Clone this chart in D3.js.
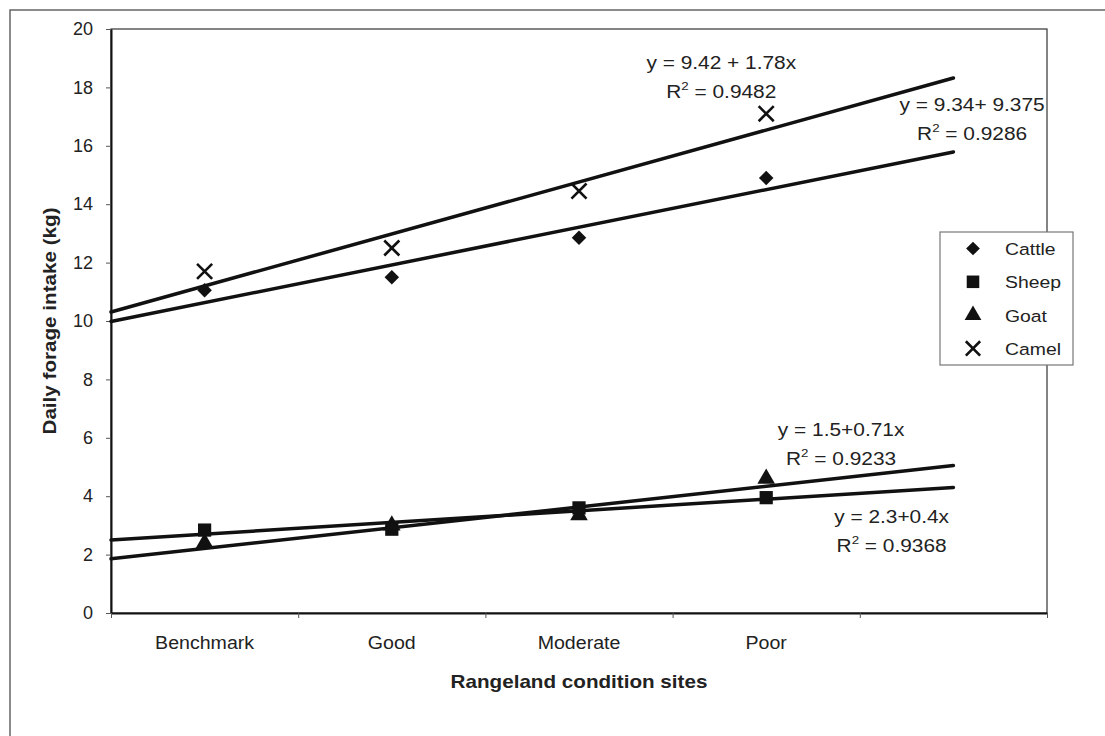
<!DOCTYPE html>
<html>
<head>
<meta charset="utf-8">
<script src="https://cdn.jsdelivr.net/npm/d3@7"></script>
<style>
  html, body { margin: 0; padding: 0; background: #fff; }
  svg { display: block; font-family: "Liberation Sans", Arial, sans-serif; }
</style>
</head>
<body>
<svg id="chart" width="1105" height="736"></svg>
<script>
// Daily forage intake per animal across rangeland condition sites
const categories = ["Benchmark", "Good", "Moderate", "Poor"];
const cattle = [11.05, 11.5, 12.85, 14.9];
const sheep  = [2.84, 2.87, 3.6, 3.95];
const goat   = [2.4, 3.0, 3.35, 4.6];
const camel  = [11.7, 12.5, 14.45, 17.1];

// Linear trends: [intercept, slope] over category index 1..n
const camelTrend  = [9.42, 1.78];
const cattleTrend = [9.34, 1.29];
const goatTrend   = [1.5, 0.71];
const sheepTrend  = [2.3, 0.4];

const yTicks = [0, 2, 4, 6, 8, 10, 12, 14, 16, 18, 20];
const seriesNames = ["Cattle", "Sheep", "Goat", "Camel"];

const equationLines = [
  ["y = 9.42 + 1.78x", "0.9482"],
  ["y = 9.34+ 9.375", "0.9286"],
  ["y = 1.5+0.71x", "0.9233"],
  ["y = 2.3+0.4x", "0.9368"]
];

// ---- layout ----
const W = 1105, H = 736;
const plot = { left: 111, right: 1047, top: 29, bottom: 613 };
const slots = categories.length + 1;           // one extra slot for the forecast
const stretch = 1.13;                           // wide text face

const svg = d3.select("#chart");
svg.append("rect").attr("width", W).attr("height", H).attr("fill", "#fff");

// outer chart frame (top and left edges)
svg.append("path")
  .attr("d", `M10,${H} L10,10 L${W},10`)
  .attr("fill", "none").attr("stroke", "#666").attr("stroke-width", 1.5);

const x = d3.scaleLinear().domain([0.5, slots + 0.5]).range([plot.left, plot.right]);
const y = d3.scaleLinear().domain([0, 20]).range([plot.bottom, plot.top]);

// plot area border
svg.append("rect")
  .attr("x", plot.left).attr("y", plot.top)
  .attr("width", plot.right - plot.left).attr("height", plot.bottom - plot.top)
  .attr("fill", "none").attr("stroke", "#333").attr("stroke-width", 1.2);

// y axis
const yAxis = svg.append("g")
  .attr("transform", `translate(${plot.left},0)`)
  .call(d3.axisLeft(y).tickValues(yTicks).tickSize(5).tickSizeOuter(0).tickPadding(13));
yAxis.select(".domain").attr("stroke", "#111").attr("stroke-width", 2);
yAxis.selectAll(".tick line").attr("stroke", "#555").attr("stroke-width", 1);
yAxis.selectAll(".tick text")
  .attr("font-size", 18).attr("fill", "#222")
  .attr("font-family", "'Liberation Sans', Arial, sans-serif");

// x axis: ticks on slot boundaries, labels at category centres
const boundaries = d3.range(0.5, slots + 1, 1);
const xAxis = svg.append("g")
  .attr("transform", `translate(0,${plot.bottom})`)
  .call(d3.axisBottom(x).tickValues(boundaries).tickFormat("").tickSize(5).tickSizeOuter(0));
xAxis.select(".domain").attr("stroke", "#111").attr("stroke-width", 2);
xAxis.selectAll(".tick line").attr("stroke", "#555").attr("stroke-width", 1);

function wideText(parent, px, py, str, opts) {
  const g = parent.append("g")
    .attr("transform", `translate(${px},${py}) rotate(${opts.rotate || 0}) scale(${opts.k || stretch},1)`);
  const t = g.append("text")
    .attr("text-anchor", opts.anchor || "middle")
    .attr("font-size", opts.size || 18)
    .attr("font-weight", opts.weight || "normal")
    .attr("fill", "#222")
    .text(str);
  return t;
}

categories.forEach((c, i) => {
  wideText(svg, x(i + 1), plot.bottom + 36, c, { size: 17.5, k: 1.12 });
});

// axis titles
wideText(svg, (plot.left + plot.right) / 2, plot.bottom + 75, "Rangeland condition sites",
  { size: 17.5, weight: "bold", k: 1.18 });
wideText(svg, 56, (plot.top + plot.bottom) / 2, "Daily forage intake (kg)",
  { size: 17.5, weight: "bold", k: 1.18, rotate: -90 });

// ---- trend lines ----
const trends = [camelTrend, cattleTrend, goatTrend, sheepTrend];
const trendLine = d3.line().x(d => x(d[0])).y(d => y(d[1]));
trends.forEach(([a, b]) => {
  const span = [0.5, categories.length + 1];
  svg.append("path")
    .attr("d", trendLine(span.map(u => [u, a + b * u])))
    .attr("fill", "none").attr("stroke", "#111").attr("stroke-width", 3.5)
    .attr("stroke-linecap", "round");
});

// ---- markers ----
const timesType = d3.symbolTimes || {
  draw(ctx, size) {
    const r = Math.sqrt(size) / 2;
    ctx.moveTo(-r, -r); ctx.lineTo(r, r);
    ctx.moveTo(r, -r); ctx.lineTo(-r, r);
  }
};
const markerStyle = {
  Cattle: { type: d3.symbolSquare, size: 105, rotate: 45, fill: "#111", stroke: "none" },
  Sheep:  { type: d3.symbolSquare, size: 175, rotate: 0, fill: "#111", stroke: "none" },
  Goat:   { type: d3.symbolTriangle, size: 135, rotate: 0, fill: "#111", stroke: "none" },
  Camel:  { type: timesType, size: 150, rotate: 0, fill: "none", stroke: "#111" }
};
function drawMarker(parent, name, px, py, scale) {
  const m = markerStyle[name];
  const sym = d3.symbol().type(m.type).size(m.size * (scale || 1));
  parent.append("path")
    .attr("d", sym())
    .attr("transform", `translate(${px},${py}) rotate(${m.rotate})`)
    .attr("fill", m.fill)
    .attr("stroke", m.stroke)
    .attr("stroke-width", m.stroke === "none" ? 0 : 2.6);
}
const seriesValues = { Cattle: cattle, Sheep: sheep, Goat: goat, Camel: camel };
["Goat", "Sheep", "Cattle", "Camel"].forEach(name => {
  seriesValues[name].forEach((v, i) => drawMarker(svg, name, x(i + 1), y(v)));
});

// ---- equation labels (anchored in data units) ----
const equationPos = [[3.76, 18.84], [5.1, 17.4], [4.4, 6.3], [4.67, 3.29]];
equationLines.forEach(([eq, r2], i) => {
  const [u, v] = equationPos[i];
  const px = x(u), py = y(v);
  wideText(svg, px, py + 6.5, eq, { size: 18, k: 1.16 });
  const t = wideText(svg, px, py + 35.5, "R", { size: 18, k: 1.16 });
  t.append("tspan").attr("font-size", 11.5).attr("dy", -8).text("2");
  t.append("tspan").attr("dy", 8).text(" = " + r2);
});

// ---- legend ----
const legend = svg.append("g").attr("transform", "translate(940,232)");
legend.append("rect")
  .attr("width", 133).attr("height", 133)
  .attr("fill", "#fff").attr("stroke", "#777").attr("stroke-width", 1.2);
seriesNames.forEach((name, i) => {
  const ry = 16.5 + i * 33.3;
  drawMarker(legend, name, 33, ry, 0.9);
  wideText(legend, 65, ry + 6.5, name, { size: 17, anchor: "start", k: 1.14 });
});
</script>
</body>
</html>
